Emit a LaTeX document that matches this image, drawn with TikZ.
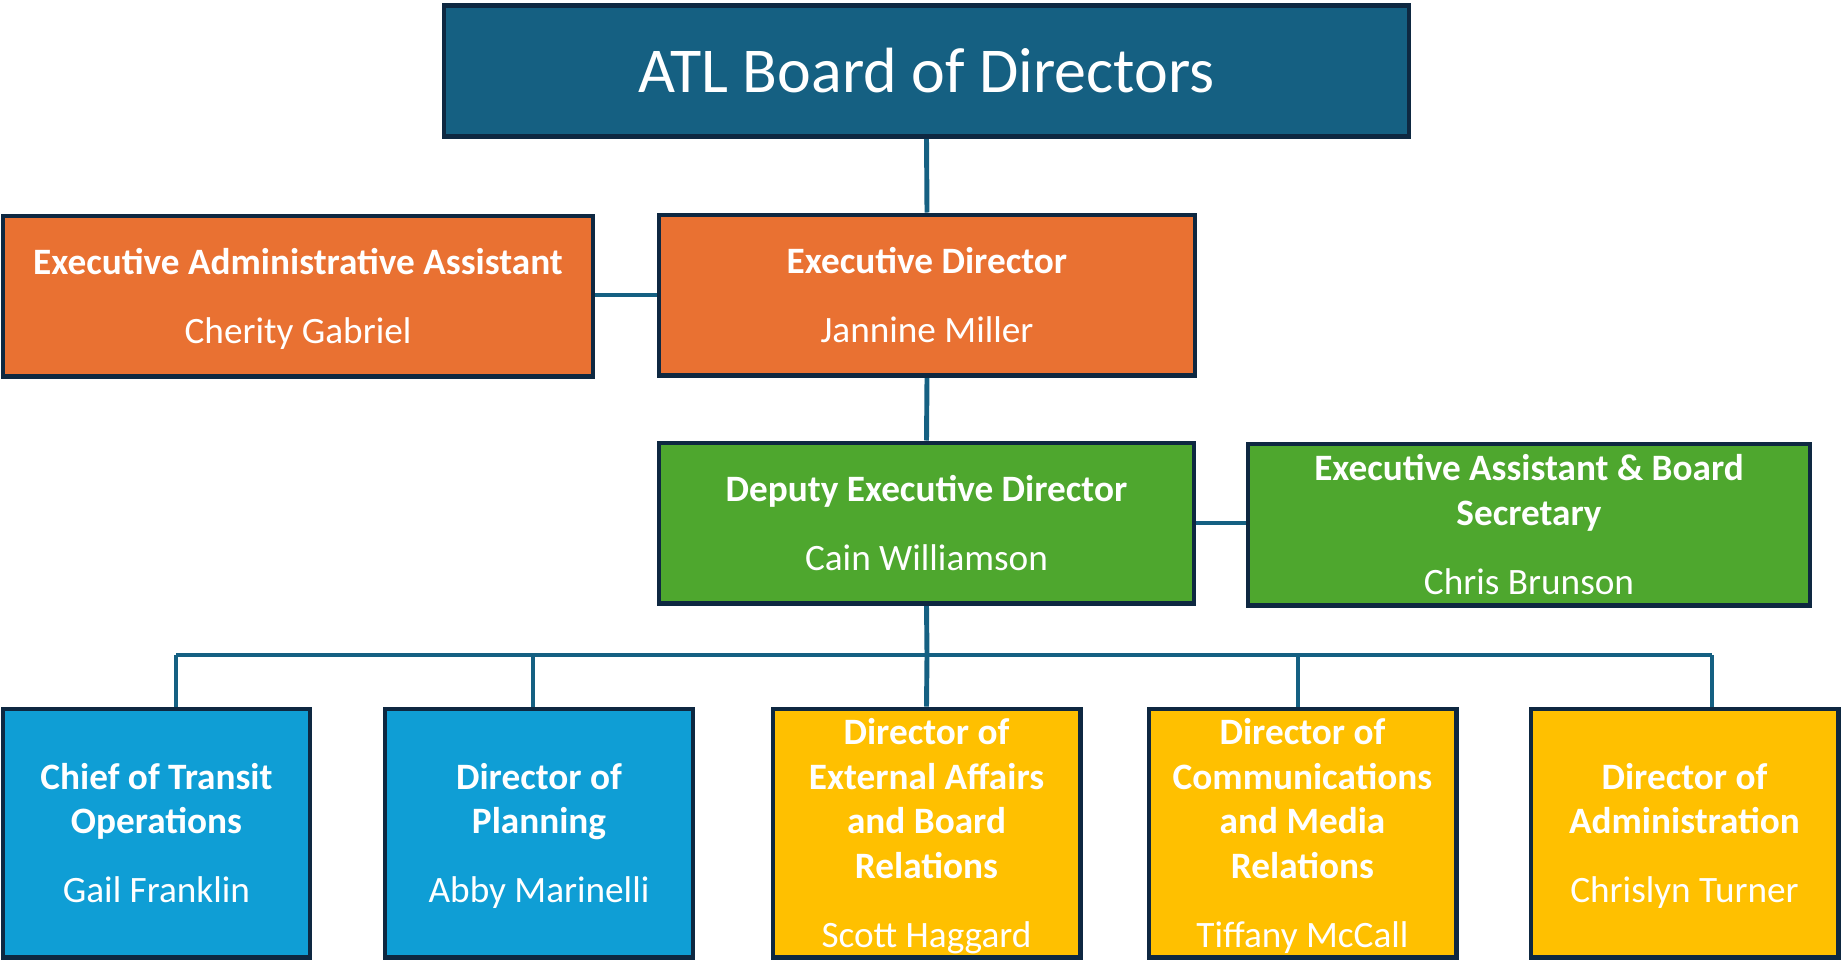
\documentclass[tikz,border=0pt]{standalone}
\usepackage{fontspec}
\setmainfont{Carlito}
\usetikzlibrary{backgrounds}
\definecolor{atlblue}{HTML}{156082}
\definecolor{atlnavy}{HTML}{0E2841}
\definecolor{atlorange}{HTML}{E97132}
\definecolor{atlgreen}{HTML}{4EA72E}
\definecolor{atlsky}{HTML}{0F9ED5}
\definecolor{atlgold}{HTML}{FFC000}
\begin{document}
\begin{tikzpicture}[x=0.02cm,y=-0.02cm,
  box/.style={draw=atlnavy,line width=2.3pt,text=white,align=center,inner sep=0pt,
              font=\fontsize{21.2}{25.3}\selectfont,text depth=-2.5pt},
  wide/.style={box,minimum height=3.22cm},
  low/.style={box,minimum width=6.16cm,minimum height=4.98cm},
  link/.style={draw=atlblue,line width=2.8pt}]
 \useasboundingbox (0,0) rectangle (1845,961);

 % top of the chart
 \node[draw=atlnavy,line width=2.3pt,text=white,inner sep=0pt,fill=atlblue,
       minimum width=19.32cm,minimum height=2.62cm,
       font=\fontsize{36.4}{40}\selectfont] (board) at (926.5,71) {ATL Board of Directors};

 % executive level
 \node[wide,fill=atlorange,minimum width=10.74cm] (ed) at (927,295)
   {\textbf{Executive Director}\\[14pt]Jannine Miller};
 \node[wide,fill=atlorange,minimum width=11.82cm] (eaa) at (298,296)
   {\textbf{Executive Administrative Assistant}\\[14pt]Cherity Gabriel};

 % deputy level
 \node[wide,fill=atlgreen,minimum width=10.72cm] (ded) at (926.5,523)
   {\textbf{Deputy Executive Director}\\[14pt]Cain Williamson};
 \node[wide,fill=atlgreen,minimum width=11.26cm,minimum height=3.24cm] (eabs) at (1529,524.5)
   {\textbf{Executive Assistant \& Board}\\\textbf{Secretary}\\[14pt]Chris Brunson};

 % directors
 \node[low,fill=atlsky] (cto) at (156.5,833)
   {\textbf{Chief of Transit}\\\textbf{Operations}\\[14pt]Gail Franklin};
 \node[low,fill=atlsky] (dop) at (539,833)
   {\textbf{Director of}\\\textbf{Planning}\\[14pt]Abby Marinelli};
 \node[low,fill=atlgold] (dea) at (926.5,833)
   {\textbf{Director of}\\\textbf{External Affairs}\\\textbf{and Board}\\\textbf{Relations}\\[14pt]Scott Haggard};
 \node[low,fill=atlgold] (dcm) at (1302.5,833)
   {\textbf{Director of}\\\textbf{Communications}\\\textbf{and Media}\\\textbf{Relations}\\[14pt]Tiffany McCall};
 \node[low,fill=atlgold] (doa) at (1684.5,833)
   {\textbf{Director of}\\\textbf{Administration}\\[14pt]Chrislyn Turner};

 % the bus over the directors
 \coordinate (bus) at (927,655);
 \coordinate (tcto) at (176,655);
 \coordinate (tdop) at (533,655);
 \coordinate (tdcm) at (1298,655);
 \coordinate (tdoa) at (1712,655);

 % connectors
 \begin{scope}[on background layer]
 \path[link] (board.south) -- (ed.north);
 \path[link] (ed.west) -- (ed.west -| eaa.east);
 \path[link] (ed.south) -- (ded.north);
 \path[link] (ded.east) -- (ded.east -| eabs.west);
 \path[link] (ded.south) -- (bus) -- (dea.north);
 \path[link] (tcto) -- (tdoa);
 \foreach \t/\n in {tcto/cto,tdop/dop,tdcm/dcm,tdoa/doa}
   \path[link] (\t) -- (\t |- \n.north);
 \end{scope}
\end{tikzpicture}
\end{document}
